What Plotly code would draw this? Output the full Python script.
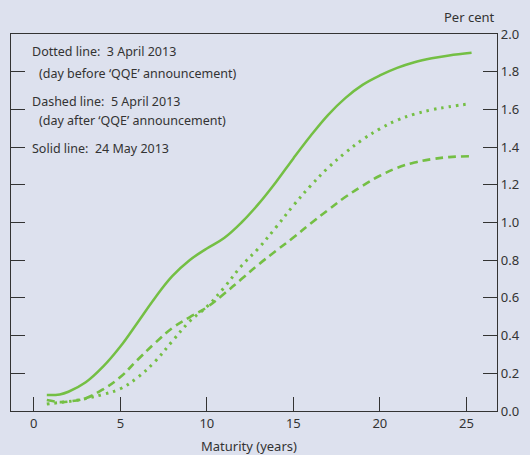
import plotly.graph_objects as go

# Maturity (years) and yields (per cent)
maturity_solid = [0.75, 1.5, 2, 3, 4, 5, 6, 7, 8, 9, 10, 11, 12, 13, 14, 15, 16, 17, 18, 19, 20, 21, 22, 23, 24, 25.3]
solid_24may = [0.085, 0.088, 0.102, 0.152, 0.235, 0.342, 0.47, 0.60, 0.715, 0.80, 0.862, 0.918, 1.00, 1.10, 1.215, 1.34,
               1.46, 1.57, 1.66, 1.73, 1.78, 1.82, 1.85, 1.871, 1.886, 1.90]

maturity_dotted = [0.75, 1.5, 2, 3, 4, 5, 6, 7, 8, 9, 10, 11, 12, 13, 14, 15, 16, 17, 18, 19, 20, 21, 22, 23, 24, 25.2]
dotted_3apr = [0.037, 0.045, 0.05, 0.066, 0.088, 0.118, 0.178, 0.262, 0.37, 0.475, 0.553, 0.655, 0.77, 0.865, 0.975,
               1.09, 1.195, 1.29, 1.37, 1.44, 1.497, 1.543, 1.575, 1.598, 1.614, 1.63]

maturity_dashed = [0.75, 1.5, 2, 3, 4, 5, 6, 7, 8, 9, 10, 11, 12, 13, 14, 15, 16, 17, 18, 19, 20, 21, 22, 23, 24, 25.3]
dashed_5apr = [0.058, 0.047, 0.05, 0.068, 0.115, 0.18, 0.272, 0.36, 0.44, 0.497, 0.55, 0.622, 0.70, 0.778, 0.85,
               0.92, 0.995, 1.066, 1.135, 1.195, 1.248, 1.29, 1.318, 1.336, 1.347, 1.352]

x_ticks = [0, 5, 10, 15, 20, 25]
y_ticks = [0.0, 0.2, 0.4, 0.6, 0.8, 1.0, 1.2, 1.4, 1.6, 1.8, 2.0]
y_ticks_left = [0.2, 0.4, 0.6, 0.8, 1.0, 1.2, 1.4, 1.6, 1.8]

GREEN = "#74bf44"
BG = "#dde1ee"
INK = "#333333"
FONT = "Noto Sans"

fig = go.Figure()
fig.add_trace(go.Scatter(x=maturity_dotted, y=dotted_3apr, mode="lines", line_shape="spline",
                         line=dict(color=GREEN, width=3, dash="2.5px,5px", smoothing=1.1), hoverinfo="skip"))
fig.add_trace(go.Scatter(x=maturity_dashed, y=dashed_5apr, mode="lines", line_shape="spline",
                         line=dict(color=GREEN, width=2.6, dash="8px,5px", smoothing=1.1), hoverinfo="skip"))
fig.add_trace(go.Scatter(x=maturity_solid, y=solid_24may, mode="lines", line_shape="spline",
                         line=dict(color=GREEN, width=2.5, smoothing=1.1), hoverinfo="skip"))
# invisible trace for left tick axis
fig.add_trace(go.Scatter(x=[None], y=[None], yaxis="y2", showlegend=False))

fig.update_layout(
    width=530, height=455,
    margin=dict(l=10, r=29, t=34, b=44),
    paper_bgcolor=BG, plot_bgcolor=BG,
    showlegend=False,
    font=dict(family=FONT, size=13, color=INK),
    xaxis=dict(range=[-1.32, 26.77], tickvals=x_ticks, ticks="inside", ticklen=14, tickwidth=1.3,
               tickcolor=INK, showline=True, linecolor=INK, linewidth=1.3, mirror=True,
               showgrid=False, zeroline=False, tickfont=dict(size=13, color=INK, family=FONT)),
    yaxis=dict(range=[0, 2], side="right", tickvals=y_ticks, ticktext=[f"{v:.1f}" for v in y_ticks],
               ticks="inside", ticklen=14, tickwidth=1.3, tickcolor=INK, showline=True, linecolor=INK,
               linewidth=1.3, mirror=True, showgrid=False, zeroline=False,
               tickfont=dict(size=13, color=INK, family=FONT)),
    yaxis2=dict(range=[0, 2], overlaying="y", side="left", tickvals=y_ticks_left, ticks="inside",
                ticklen=14, tickwidth=1.3, tickcolor=INK, showticklabels=False, showgrid=False,
                zeroline=False, showline=False),
)

ann = [
    dict(text="Per cent", x=1.0, y=1.0, xref="paper", yref="paper", xanchor="right", yanchor="bottom",
         yshift=6, showarrow=False, font=dict(size=13)),
    dict(text="Maturity (years)", x=(250.5 - 10) / 491, y=0, xref="paper", yref="paper", xanchor="center",
         yanchor="middle", yshift=-35, showarrow=False, font=dict(size=13)),
]
notes = [
    ("Dotted line:  3 April 2013", 29, 52),
    ("(day before \u2018QQE\u2019 announcement)", 36, 73),
    ("Dashed line:  5 April 2013", 29, 101),
    ("(day after \u2018QQE\u2019 announcement)", 36, 120),
    ("Solid line:  24 May 2013", 29, 148),
]
for text, px, py in notes:
    ann.append(dict(text=text, x=(px - 10) / 491, y=(411 - py) / 377, xref="paper", yref="paper",
                    xanchor="left", yanchor="middle", showarrow=False, font=dict(size=12.5)))
fig.update_layout(annotations=ann)

fig.write_html("out.html", config={"displayModeBar": False},
               post_script="document.body.style.margin='0';document.body.style.background='%s';" % BG)
